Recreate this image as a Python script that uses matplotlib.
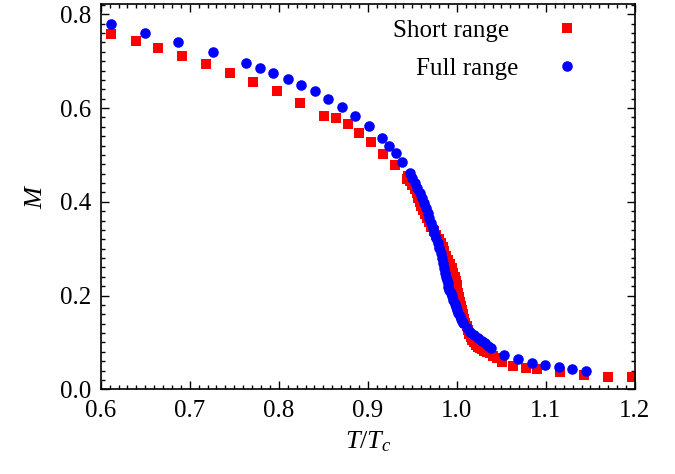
import matplotlib
matplotlib.use('Agg')
import matplotlib.pyplot as plt
from matplotlib.ticker import MultipleLocator, FormatStrFormatter

plt.rcParams['font.family'] = 'Liberation Serif'
plt.rcParams['mathtext.fontset'] = 'custom'
plt.rcParams['mathtext.rm'] = 'Liberation Serif'
plt.rcParams['mathtext.it'] = 'Liberation Serif:italic'

# Short range (red squares), T/Tc and M
short_t = [0.6116, 0.6393, 0.6647, 0.6916, 0.7186, 0.7449, 0.7714, 0.7983, 0.8238,
           0.8511, 0.8642, 0.8780, 0.8904, 0.9039, 0.9173, 0.9305, 0.9436,
           0.9447, 0.947, 0.950, 0.9526, 0.9552, 0.9568, 0.9585, 0.960, 0.9619,
           0.964, 0.9665, 0.969, 0.9713, 0.974, 0.977, 0.980, 0.9825, 0.984,
           0.986, 0.988, 0.990, 0.992, 0.994, 0.996, 0.998, 0.999, 1.000, 1.0006,
           1.0012, 1.002, 1.003, 1.0043, 1.0057, 1.007, 1.008, 1.0096, 1.0113,
           1.0126, 1.014, 1.0155, 1.017, 1.019, 1.021, 1.0235, 1.026, 1.0285,
           1.031, 1.034, 1.037, 1.041, 1.045,
           1.0503, 1.0633, 1.0773, 1.0903, 1.1158, 1.1427, 1.170, 1.1963]
short_m = [0.758, 0.742, 0.728, 0.712, 0.693, 0.674, 0.655, 0.637, 0.610,
           0.582, 0.579, 0.565, 0.546, 0.527, 0.503, 0.479, 0.448,
           0.454, 0.445, 0.436, 0.427, 0.418, 0.409, 0.400, 0.391, 0.383,
           0.374, 0.365, 0.356, 0.347, 0.338, 0.329, 0.320, 0.312, 0.303,
           0.294, 0.285, 0.276, 0.267, 0.258, 0.249, 0.240, 0.231, 0.222, 0.213,
           0.205, 0.196, 0.187, 0.178, 0.169, 0.160, 0.151, 0.142, 0.134,
           0.126, 0.119, 0.112, 0.105, 0.100, 0.095, 0.091, 0.088, 0.085,
           0.082, 0.079, 0.077, 0.072, 0.067,
           0.0589, 0.0504, 0.0461, 0.0427, 0.0363, 0.0312, 0.027, 0.0256]

# Full range (blue circles)
full_t = [0.6116, 0.6494, 0.6871, 0.7258, 0.7632, 0.7789, 0.7938, 0.8100, 0.8246,
          0.8407, 0.8549, 0.8706, 0.8856, 0.9010, 0.9162, 0.9241, 0.9313, 0.9387,
          0.9473, 0.950, 0.9529, 0.9557, 0.9586, 0.961, 0.9634, 0.9653, 0.9672,
          0.969, 0.9709, 0.9727, 0.9746, 0.9765, 0.9784, 0.9802, 0.9821, 0.9834,
          0.9847, 0.986, 0.9872, 0.988, 0.9888, 0.9895, 0.9903, 0.9916, 0.993,
          0.9945, 0.9960, 0.9974, 0.9988, 1.0002, 1.0016, 1.003, 1.0044, 1.0058,
          1.0072, 1.011, 1.0147, 1.019, 1.0240, 1.028, 1.0316, 1.035, 1.0383,
          1.0532, 1.0683, 1.084, 1.099, 1.1147, 1.1296, 1.1446]
full_m = [0.779, 0.7605, 0.741, 0.7206, 0.6965, 0.685, 0.6745, 0.662, 0.649,
          0.6355, 0.6196, 0.602, 0.583, 0.561, 0.536, 0.519, 0.504, 0.485,
          0.461, 0.450, 0.4397, 0.429, 0.4184, 0.408, 0.397, 0.386, 0.3757,
          0.365, 0.3543, 0.344, 0.333, 0.322, 0.3116, 0.301, 0.2903, 0.280,
          0.269, 0.258, 0.2476, 0.240, 0.233, 0.226, 0.219, 0.212, 0.205,
          0.198, 0.1905, 0.183, 0.176, 0.169, 0.1622, 0.156, 0.151, 0.146,
          0.1409, 0.131, 0.1229, 0.116, 0.1089, 0.103, 0.0982, 0.093, 0.0875,
          0.0732, 0.064, 0.0568, 0.0512, 0.0469, 0.0433, 0.0397]

fig = plt.figure(figsize=(6.75, 4.74), dpi=100)
ax = fig.add_axes([0.1492, 0.1787, 0.7915, 0.8139])

ax.plot(short_t, short_m, 's', color='#ff0000', ms=7.6, mew=0, label='Short range')
ax.plot(full_t, full_m, 'o', color='#0000ff', ms=7.6, mew=0, label='Full range')

ax.set_xlim(0.6, 1.2)
ax.set_ylim(0.0, 0.823)
ax.xaxis.set_major_locator(MultipleLocator(0.1))
ax.xaxis.set_minor_locator(MultipleLocator(0.01))
ax.yaxis.set_major_locator(MultipleLocator(0.2))
ax.yaxis.set_minor_locator(MultipleLocator(0.02))
ax.xaxis.set_major_formatter(FormatStrFormatter('%.1f'))
ax.yaxis.set_major_formatter(FormatStrFormatter('%.1f'))
ax.tick_params(which='both', direction='in', top=True, right=True, width=1.0, labelsize=18)
ax.tick_params(which='major', length=6)
ax.tick_params(which='minor', length=3)
ax.tick_params(axis='x', pad=8)
ax.tick_params(axis='y', pad=7)
for s in ax.spines.values():
    s.set_linewidth(1.2)

ax.set_xlabel(r'$T/T_c$', fontsize=19, labelpad=5)
ax.set_ylabel(r'$M$', fontsize=19, labelpad=9)

leg = ax.legend(loc='upper right', frameon=False, markerfirst=False, fontsize=18,
                handlelength=1.0, handletextpad=1.8, labelspacing=0.62,
                borderpad=0.4, borderaxespad=0.0, bbox_to_anchor=(0.915, 0.985))
# nudge the shorter label to the right, roughly right-justified like gnuplot
fig.canvas.draw()
renderer = fig.canvas.get_renderer()
widths = [t.get_window_extent(renderer).width for t in leg.get_texts()]
for t, w in zip(leg.get_texts(), widths):
    t.set_position(((max(widths) - w) * 0.65, 0))

fig.savefig('out.png', dpi=100)
